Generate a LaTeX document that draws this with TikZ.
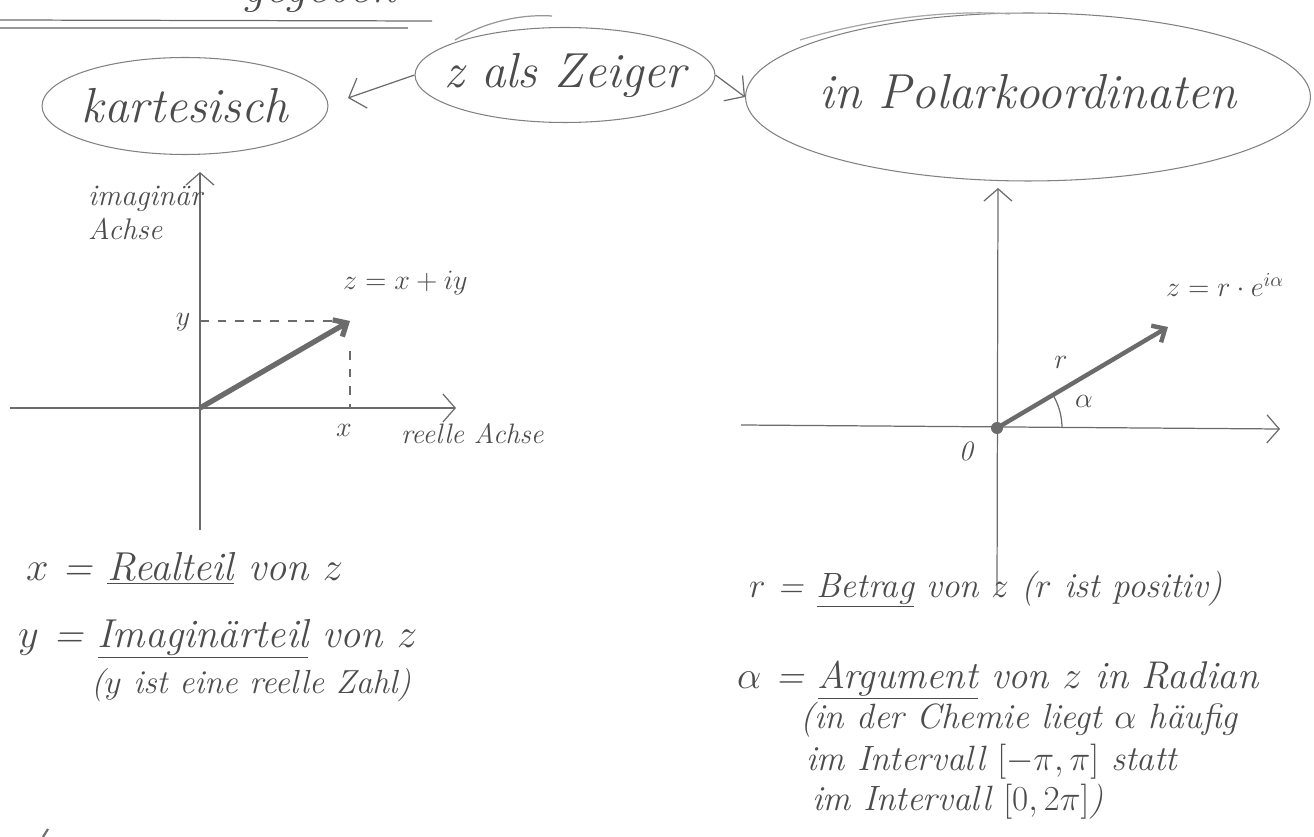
\RequirePackage{fix-cm}
\documentclass[tikz,border=0pt]{standalone}
\usepackage{fontspec}
\usetikzlibrary{shapes.geometric,arrows.meta}

\definecolor{pencil}{gray}{0.42}
\definecolor{lead}{gray}{0.30}

\newcommand{\fsz}[1]{\fontsize{#1}{#1}\selectfont}

\tikzset{
  stroke/.style={draw=pencil, line width=0.7pt},
  bubble/.style={ellipse, draw=pencil!85, line width=0.6pt, inner sep=0pt},
  hand/.style={text=lead, font=\itshape\fsz{#1}},
  hand/.default=20,
  barb/.style={-{Straight Barb[length=8pt,width=18pt]}},
  axis/.style={stroke, -{Straight Barb[length=7pt,width=16pt]}},
  pointer/.style={draw=pencil, line width=3pt, -{Straight Barb[length=6pt,width=11pt]}},
  guide/.style={draw=pencil, line width=0.6pt, dash pattern=on 5pt off 5pt},
}

\begin{document}
\begin{tikzpicture}[x=0.02cm,y=-0.02cm]
  \useasboundingbox (0,0) rectangle (1314,837);

  % Heading (cut by the top edge) and its double rule
  \node[hand=28,anchor=base west] (heading) at (236,3) {gegeben};
  \draw[stroke] (0,20) -- (432,21);
  \draw[stroke,draw=pencil!70] (0,28) -- (408,28);

  % Bubbles
  \node[bubble,minimum width=5.72cm,minimum height=1.94cm] (kart) at (185,106) {};
  \node[hand=28] (kartlbl) at (kart.center) {kartesisch};
  \node[bubble,minimum width=6cm,minimum height=1.9cm] (zeiger) at (565,75) {};
  \node[hand=28] (zeigerlbl) at (zeiger.center) {z als Zeiger};
  \node[bubble,minimum width=11.3cm,minimum height=3.36cm] (polar) at (1028,97) {};
  \node[hand=28] (polarlbl) at ([yshift=0.1cm]polar.center) {in Polarkoordinaten};
  \draw[stroke,draw=pencil!70] (455,40) .. controls (485,22) and (520,14) .. (552,16);
  \draw[stroke,draw=pencil!60] (800,40) .. controls (880,16) and (960,10) .. (1010,14);

  \coordinate (kartend) at (348,98);
  \draw[stroke,barb] (zeiger.west) -- (kartend);
  \draw[stroke,barb] (zeiger.east) -- (polar.west);

  % Left panel: cartesian form
  \coordinate (O1) at (200,408);
  \coordinate (z1) at (350,321);
  \coordinate (re1l) at (10,408);
  \coordinate (re1r) at (456,408);
  \coordinate (im1b) at (200,530);
  \coordinate (im1t) at (200,172);
  \draw[axis] (re1l) -- (re1r);
  \draw[axis] (im1b) -- (im1t);
  \draw[guide] (O1 |- z1) -- ([xshift=-0.3cm]z1);
  \draw[guide] ([yshift=-0.6cm]z1) -- (z1 |- O1);
  \draw[pointer] (O1) -- (z1);

  \node[hand=17,anchor=north west,align=left] (imlbl) at (82,180) {imaginär\\[2pt]Achse};
  \node[hand=16] (ylbl) at (183,322) {$y$};
  \node[hand=16] (xlbl) at (344,430) {$x$};
  \node[hand=16,anchor=base west] (z1lbl) at (337,290) {$z=x+iy$};
  \node[hand=16,anchor=base west] (relbl) at (395,443) {reelle Achse};

  \node[hand=23,anchor=base west] (xdef) at (20,580) {$x$ = \underline{Realteil} von $z$};
  \node[hand=23,anchor=base west] (ydef) at (12,647) {$y$ = \underline{Imaginärteil} von $z$};
  \node[hand=19,anchor=base west] (ynote) at (85,693) {($y$ ist eine reelle Zahl)};

  % Right panel: polar form
  \coordinate (O2) at (997,428);
  \coordinate (z2) at (1168,327);
  \coordinate (re2l) at (741,425);
  \coordinate (re2r) at (1280,429);
  \coordinate (im2b) at (997,595);
  \coordinate (im2t) at (998,188);
  \draw[axis] (re2l) -- (re2r);
  \draw[axis] (im2b) -- (im2t);
  \draw[pointer,line width=2.5pt] (O2) -- (z2);
  \fill[pencil] (O2) circle[radius=6];
  \draw[stroke] ([xshift=1.3cm]O2) arc[start angle=0,end angle=-30,radius=65];

  \node[hand=16] (rlbl) at (1061,362) {$r$};
  \node[hand=16] (alphalbl) at (1084,401) {$\alpha$};
  \node[hand=16] (olbl) at (966,451) {0};
  \node[hand=16,anchor=base west] (z2lbl) at (1160,297) {$z=r\cdot e^{i\alpha}$};

  \node[hand=20,anchor=base west] (rdef) at (743,597) {$r$ = \underline{Betrag} von $z$ ($r$ ist positiv)};
  \node[hand=22,anchor=base west] (adef) at (731,688) {$\alpha$ = \underline{Argument} von $z$ in Radian};
  \node[hand=20,anchor=base west] (anote1) at (794,728) {(in der Chemie liegt $\alpha$ häufig};
  \node[hand=20,anchor=base west] (anote2) at (800,770) {im Intervall $[-\pi,\pi]$ statt};
  \node[hand=20,anchor=base west] (anote3) at (806,810) {im Intervall $[0,2\pi]$)};

  % stray pencil mark at the bottom edge
  \draw[stroke,line width=1.2pt] (43,837) -- (48,829);
\end{tikzpicture}
\end{document}
